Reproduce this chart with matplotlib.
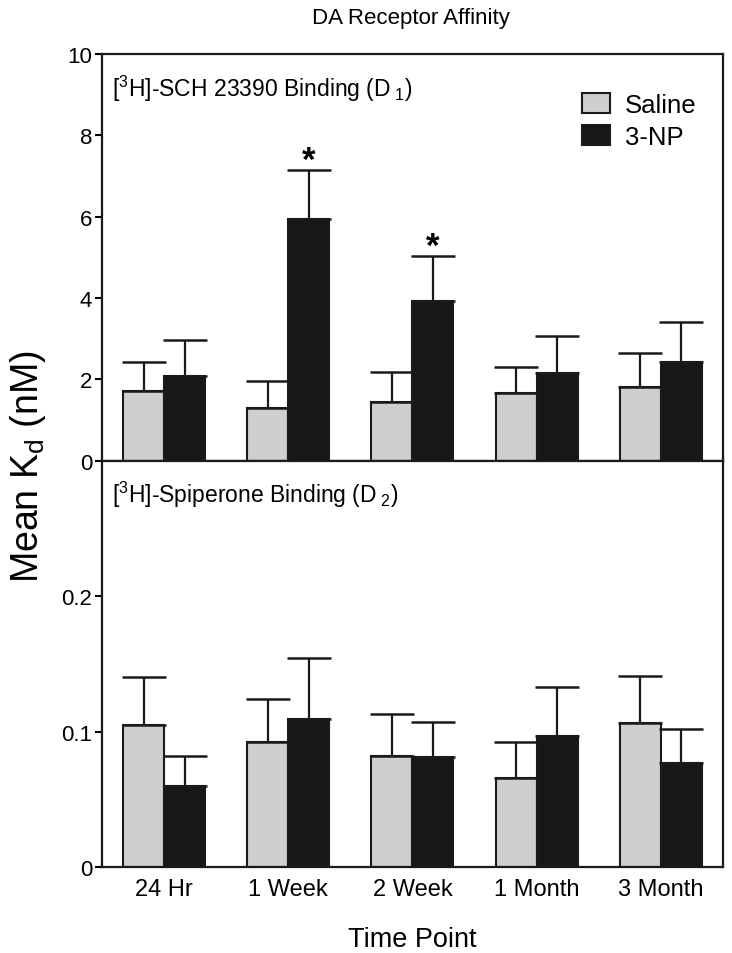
import matplotlib
matplotlib.use("Agg")
import matplotlib.pyplot as plt
import numpy as np
from matplotlib.patches import Patch

plt.rcParams['font.family'] = ['Liberation Sans', 'DejaVu Sans']
plt.rcParams['mathtext.fontset'] = 'custom'
plt.rcParams['mathtext.rm'] = 'Liberation Sans'
plt.rcParams['mathtext.it'] = 'Liberation Sans:italic'

# data
time_points = ['24 Hr', '1 Week', '2 Week', '1 Month', '3 Month']

d1_saline = [1.71, 1.29, 1.44, 1.66, 1.81]
d1_saline_err = [0.71, 0.66, 0.74, 0.64, 0.85]
d1_3np = [2.08, 5.94, 3.93, 2.16, 2.44]
d1_3np_err = [0.89, 1.22, 1.10, 0.90, 0.98]
d1_signif = [False, True, True, False, False]

d2_saline = [0.105, 0.092, 0.082, 0.066, 0.106]
d2_saline_err = [0.035, 0.032, 0.031, 0.026, 0.035]
d2_3np = [0.060, 0.109, 0.081, 0.097, 0.077]
d2_3np_err = [0.022, 0.045, 0.026, 0.036, 0.025]

SALINE_C = '#cfcfcf'
NP_C = '#171717'
W = 0.33

fig = plt.figure(figsize=(7.32, 9.54), dpi=100)
ax_top = fig.add_axes([0.1393, 0.5160, 0.8484, 0.4263])
ax_bot = fig.add_axes([0.1393, 0.0901, 0.8484, 0.4259])

x = np.arange(len(time_points))

def draw(ax, sal, sal_err, np3, np3_err):
    err_kw = dict(ecolor='#1a1a1a', elinewidth=1.6, capsize=15.5, capthick=1.8)
    ax.bar(x - W/2, sal, W, color=SALINE_C, edgecolor='#1a1a1a', linewidth=1.5,
           yerr=[np.zeros(len(sal)), sal_err], error_kw=err_kw, label='Saline', zorder=2)
    ax.bar(x + W/2, np3, W, color=NP_C, edgecolor='#1a1a1a', linewidth=1.5,
           yerr=[np.zeros(len(np3)), np3_err], error_kw=err_kw, label='3-NP', zorder=2)
    ax.set_xlim(-0.5, len(time_points) - 0.5)
    for s in ax.spines.values():
        s.set_linewidth(1.6)
        s.set_color('#1a1a1a')
    ax.tick_params(axis='y', direction='out', length=5, width=1.5, labelsize=16, pad=2)
    ax.tick_params(axis='x', length=0)

draw(ax_top, d1_saline, d1_saline_err, d1_3np, d1_3np_err)
draw(ax_bot, d2_saline, d2_saline_err, d2_3np, d2_3np_err)

ax_top.set_ylim(0, 10)
ax_top.set_yticks([0, 2, 4, 6, 8, 10])
ax_top.set_xticks([])
for i, s in enumerate(d1_signif):
    if s:
        ax_top.annotate('*', (x[i] + W/2, d1_3np[i] + d1_3np_err[i]), xytext=(0, -5),
                        textcoords='offset points', ha='center', va='bottom',
                        fontsize=25, fontweight='bold')

ax_bot.set_ylim(0, 0.3)
ax_bot.set_yticks([0, 0.1, 0.2])
ax_bot.set_yticklabels(['0', '0.1', '0.2'])
ax_bot.set_xticks(x)
ax_bot.set_xticklabels(time_points, fontsize=17)
ax_bot.tick_params(axis='x', pad=8)

ax_top.text(0.016, 0.955, r'[$^{3}$H]-SCH 23390 Binding (D$_{\ 1}$)', transform=ax_top.transAxes,
            fontsize=16.5, va='top', ha='left')
ax_bot.text(0.016, 0.955, r'[$^{3}$H]-Spiperone Binding (D$_{\ 2}$)', transform=ax_bot.transAxes,
            fontsize=16.5, va='top', ha='left')

handles = [Patch(facecolor=SALINE_C, edgecolor='#1a1a1a', linewidth=1.5, label='Saline'),
           Patch(facecolor=NP_C, edgecolor='#1a1a1a', linewidth=1.5, label='3-NP')]
ax_top.legend(handles=handles, loc='upper left', bbox_to_anchor=(0.773, 0.905), frameon=False,
              fontsize=18.5, handlelength=1.09, handleheight=0.85, handletextpad=0.58,
              labelspacing=0.3, borderpad=0, borderaxespad=0)

fig.text(0.562, 0.981, 'DA Receptor Affinity', ha='center', va='center', fontsize=16)
fig.text(0.038, 0.5105, r'Mean K$_{\rm d}$ (nM)', rotation=90, ha='center', va='center', fontsize=27)
fig.text(0.563, 0.015, 'Time Point', ha='center', va='center', fontsize=19.5)

fig.savefig('out.png', dpi=100)
